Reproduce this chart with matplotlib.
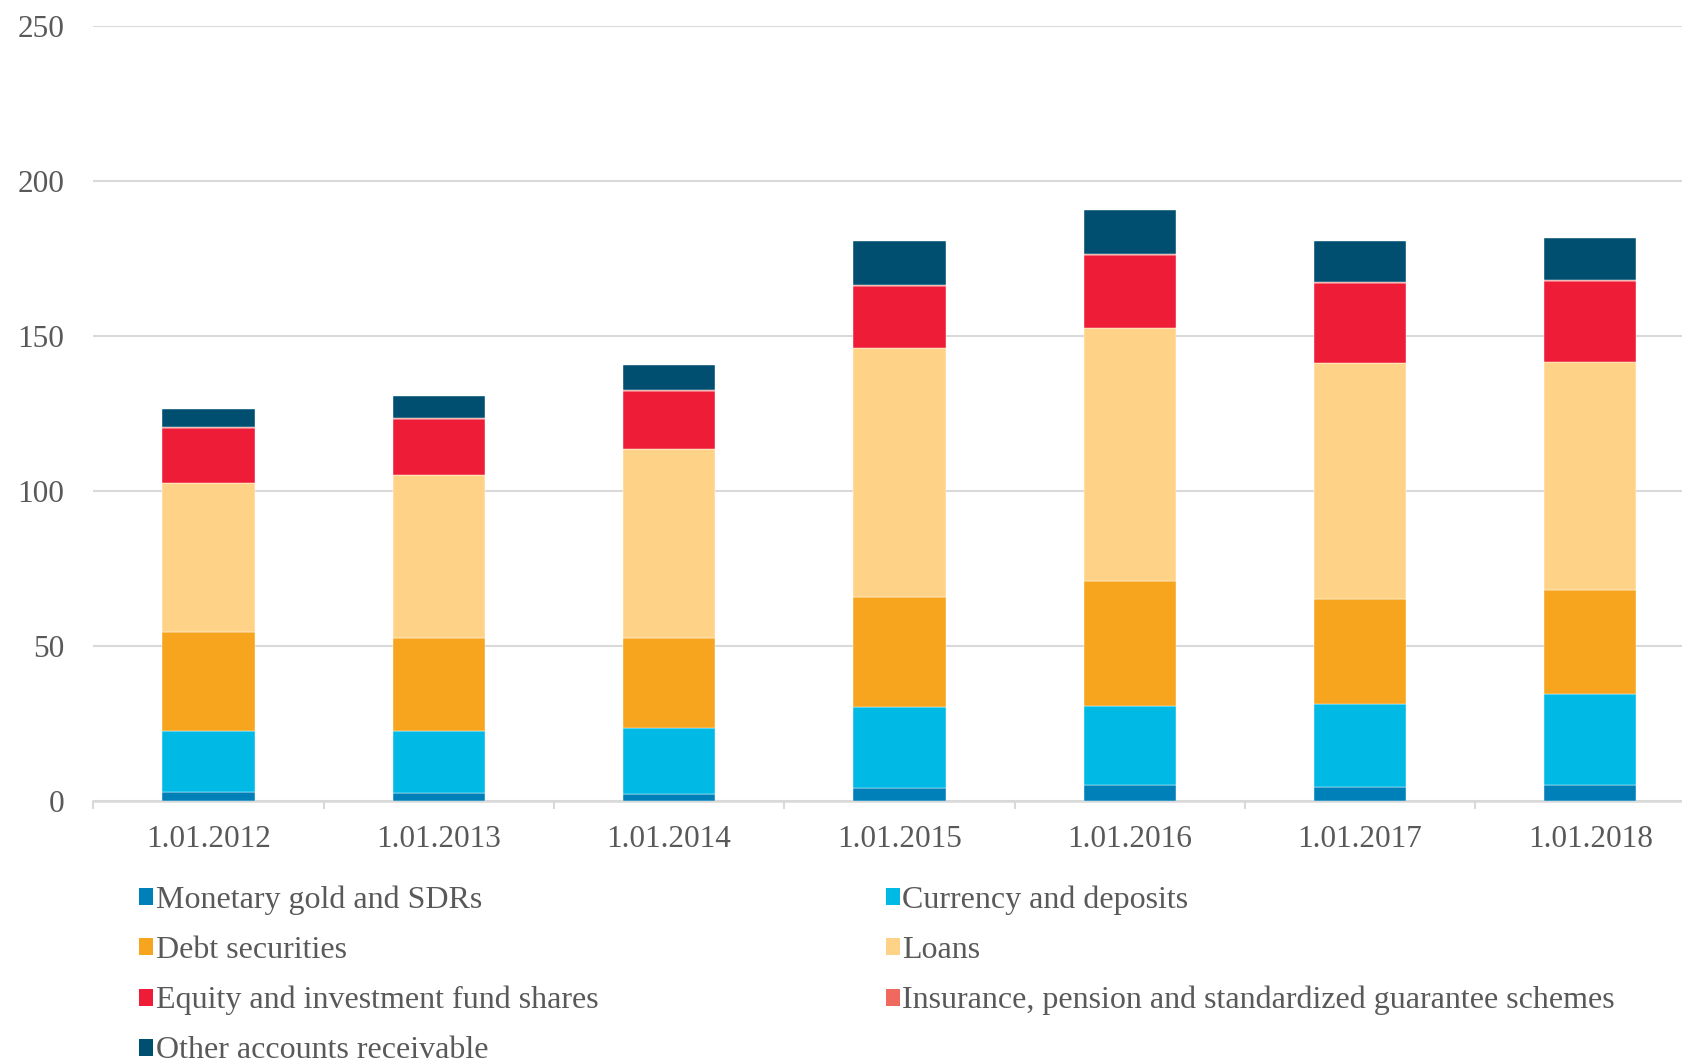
import matplotlib
matplotlib.use("Agg")
import matplotlib.pyplot as plt
from matplotlib.patches import Patch
import numpy as np

# Dates of the stock positions (bn)
dates = ["1.01.2012", "1.01.2013", "1.01.2014", "1.01.2015",
         "1.01.2016", "1.01.2017", "1.01.2018"]

gold = [2.8, 2.6, 2.3, 4.0, 5.1, 4.4, 5.0]
currency = [19.7, 19.9, 21.2, 26.2, 25.4, 26.7, 29.3]
debt = [31.8, 30.0, 29.1, 35.4, 40.5, 34.0, 33.6]
loans = [48.1, 52.7, 60.8, 80.3, 81.6, 76.0, 73.5]
equity = [17.9, 18.0, 18.8, 20.1, 23.4, 25.8, 26.4]
insurance = [0.3, 0.3, 0.3, 0.3, 0.3, 0.3, 0.3]
other = [5.8, 7.0, 8.0, 14.2, 14.1, 13.5, 13.3]

series_names = ["Monetary gold and SDRs", "Currency and deposits",
                "Debt securities", "Loans",
                "Equity and investment fund shares",
                "Insurance, pension and standardized guarantee schemes",
                "Other accounts receivable"]
series_values = [gold, currency, debt, loans, equity, insurance, other]
series_colors = ["#0080B8", "#00BAE5", "#F7A51E", "#FFD387",
                 "#EE1C36", "#F0695F", "#004F71"]

yticks = [0, 50, 100, 150, 200, 250]

text_gray = "#595959"
grid_gray = "#D9D9D9"
plt.rcParams["font.family"] = ["Liberation Serif", "DejaVu Serif"]

fig = plt.figure(figsize=(16.83, 10.64), dpi=100)
ax = fig.add_axes([0.0555, 0.2475, 0.9579, 0.7283])

x = np.arange(len(dates))
bottom = np.zeros(len(dates))
for name, vals, col in zip(series_names, series_values, series_colors):
    v = np.array(vals, dtype=float)
    ax.bar(x, v, width=0.4, bottom=bottom, color=col,
           edgecolor="#FFFFFF", linewidth=0.3, zorder=3)
    bottom += v

ax.set_xlim(-0.5, len(dates) - 0.5)
ax.set_ylim(0, 250)
ax.set_yticks(yticks)
ax.set_xticks(x)
ax.set_xticklabels(dates)
ax.set_xticks(np.arange(-0.5, len(dates), 1.0), minor=True)

ax.grid(axis="y", color=grid_gray, linewidth=1.5, zorder=0)
ax.set_axisbelow(True)
for s in ["left", "right", "top"]:
    ax.spines[s].set_visible(False)
ax.spines["bottom"].set_color(grid_gray)
ax.spines["bottom"].set_linewidth(1.8)

ax.tick_params(axis="y", length=0, pad=21, labelsize=22.5, labelcolor=text_gray)
ax.tick_params(axis="x", which="major", length=0, pad=17.5, labelsize=22.5,
               labelcolor=text_gray)
ax.tick_params(axis="x", which="minor", length=6, width=1.5, color=grid_gray)

handles = [Patch(facecolor=c, edgecolor="none") for c in series_colors]
left_idx = [0, 2, 4, 6]
right_idx = [1, 3, 5]

common = dict(loc="upper left", frameon=False, fontsize=23,
              handlelength=0.44, handleheight=0.44, handletextpad=0.08,
              labelspacing=0.66, borderpad=0, borderaxespad=0,
              labelcolor=text_gray)
fig.legend([handles[i] for i in left_idx], [series_names[i] for i in left_idx],
           bbox_to_anchor=(0.0828, 0.168), **common)
fig.legend([handles[i] for i in right_idx], [series_names[i] for i in right_idx],
           bbox_to_anchor=(0.5262, 0.168), **common)

fig.savefig("out.png", dpi=100)
